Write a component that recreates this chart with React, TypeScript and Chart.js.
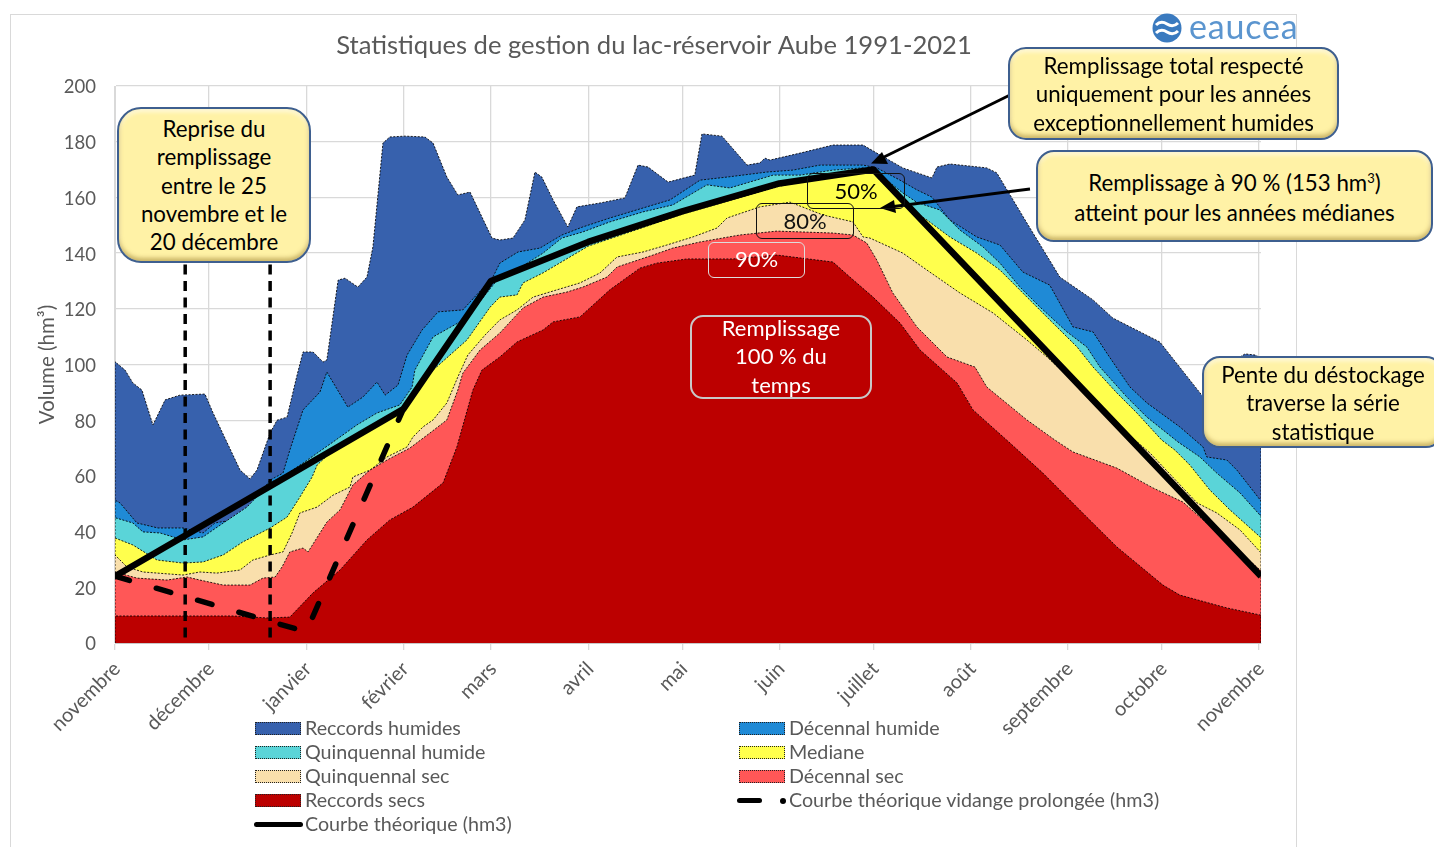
import React, { useEffect, useRef } from "react";
import { Chart, registerables } from "chart.js";

Chart.register(...registerables);

const FONT = "Lato";
const GREY = "#595959";

const chartTitle = "Statistiques de gestion du lac-réservoir Aube 1991-2021";
const yTitle = "Volume (hm³)";
const monthLabels = ["novembre","décembre","janvier","février","mars","avril","mai","juin","juillet","août","septembre","octobre","novembre"];
const monthDays = [0,30,61,92,120,151,181,212,242,273,304,334,365];
const xMax = 365.7;

type P = [number, number];

const reccordsHumides: P[] = [[0,101],[3.2,98],[5.7,93.4],[8.6,90.8],[12.1,78.3],[16,87.3],[20.7,89],[28.7,89.4],[31.3,82.6],[39.9,62.1],[43.1,58.9],[45.3,62.1],[49.5,75.4],[51.7,80],[54.9,81.1],[58.1,96.2],[60,104.5],[63.2,104.5],[66.4,100.9],[67.6,101.6],[71.2,130.3],[73.4,131],[77.5,127.8],[80.4,131.4],[82.3,142.2],[85.5,179.5],[87.7,181.7],[92.5,182],[98.9,181.7],[101.5,179.5],[105.9,167.3],[109.4,160.9],[113.3,161.9],[120.3,145.4],[122.8,144.7],[127,145.4],[130.8,151.9],[134,169.1],[136.2,167.3],[139.8,159.1],[144.5,149.4],[147.4,156.6],[154.8,158],[162.7,159.8],[166.9,171.6],[170.1,170.9],[176.5,165.5],[185,168],[187.3,182.8],[193.7,182],[201.7,171.6],[205.8,172.4],[207.4,174.1],[209,173.4],[218.6,175.9],[229.1,178.8],[238.7,178.8],[243.1,175.9],[251.4,170.6],[260.7,167],[262.3,170.9],[266.4,172],[278.2,170.6],[281.4,168.8],[291,150.8],[301.5,131.4],[312.1,123.2],[318.4,116.7],[333.4,108.1],[346.8,89],[351,86],[354,90],[357.4,101.6],[360.6,103.8],[363.8,103.4],[365.7,102.3]];
const decennalHumide: P[] = [[0,51.3],[1.6,50.3],[7,43.1],[13.7,41.3],[21.7,41.3],[28.1,39.5],[31.9,43.1],[37.7,44.2],[42.1,46.7],[44.7,51.3],[49.5,58.5],[53.6,61],[55.8,69.3],[60,83.7],[65.4,90.1],[67.6,97.3],[74.3,84.7],[79.1,88.3],[83.6,93.7],[86.2,89],[90.3,92.6],[93.2,103.4],[98,112.4],[103.1,118.9],[111,119.6],[120.6,131.4],[122.8,136.4],[128.6,140.4],[135.6,141.8],[142.6,146.5],[149.3,149.4],[157.9,152.6],[168.5,156.2],[177.1,159.1],[186.7,166.2],[195.3,167.3],[208,169.1],[216.3,169.8],[225,171.6],[238.7,171.6],[243.1,170.6],[250.5,166.2],[255.9,162.7],[260.7,160.1],[266.4,151.9],[275,145.8],[282.4,142.9],[289.7,133.2],[298.3,128.5],[305.7,113.5],[312.1,111.7],[316.5,104.1],[323.9,91.9],[329.3,86.2],[339.8,77.6],[347.2,70.4],[348.4,66.8],[354.8,65.7],[358,62.1],[365.7,51]];
const quinquennalHumide: P[] = [[0,45],[5.7,43.1],[8.9,39.9],[14.4,39.5],[21.7,37],[28.1,38.1],[31.3,40.6],[42.1,48.8],[49.5,57.5],[54.2,60.3],[60,64.6],[69.6,72.2],[77.2,78.3],[83.6,82.6],[90.9,85.5],[94.8,91.9],[95.7,98],[101.5,109.9],[112.3,116.7],[121.9,130.3],[129.2,134.7],[136.6,140],[142.6,145.4],[149.3,147.6],[157.9,151.2],[168.5,154.8],[178,157.3],[188.9,164.5],[196.2,163.4],[210,168],[218.6,168],[229.1,169.8],[238.7,170.6],[243.1,169.1],[251.4,161.6],[255.9,158.2],[263.2,155.5],[269.6,148.3],[277,142.2],[282.4,136.4],[288.8,127.8],[295.2,120.6],[303.8,111.7],[310.1,106.3],[314.3,99.1],[322.9,88.3],[329.3,81.1],[339.2,72.2],[346.2,66.8],[351.6,61],[359,53.9],[365.7,45.5]];
const mediane: P[] = [[0,37.7],[5.7,35.2],[13.4,29.8],[21.7,28.7],[28.1,29.1],[34.5,31.6],[40.8,36.3],[49.5,41.3],[54.9,45.2],[59,52.4],[62.9,59.6],[64.5,63.9],[69.6,69.3],[80.4,76.5],[90.9,83.7],[94.1,88.3],[101.5,98],[112.3,108.8],[119.7,120.6],[122.8,124.2],[128.3,125],[130.2,129.3],[136.6,132.9],[151,142.5],[181,154],[212,164],[230,168],[242,169],[243.1,167.3],[246.3,163.7],[252.7,156.6],[259.1,151.9],[266.4,145.8],[275,140],[282.4,133.9],[291,124.2],[298.3,116],[307,106.3],[312.1,99.1],[319.7,89.8],[326.1,82.6],[334,72.9],[338.2,69.3],[343,63.9],[349.4,54.9],[355.8,47.8],[365.7,37.8]];
const quinquennalSec: P[] = [[0,31.6],[3.8,27.3],[8.9,25.5],[21.7,24.4],[27.1,25.5],[32.5,25.1],[39.9,26.2],[44,29.8],[49.5,31.6],[53.6,32.7],[56.5,39.5],[59,46.7],[64.5,48.8],[69.6,53.1],[75,56],[75.9,59.6],[81.4,62.1],[86.8,66.8],[93.2,70.4],[95.1,74],[98.3,77.6],[101.5,80.1],[105.9,86.2],[109.4,95.5],[112.6,103.4],[118.1,110.6],[122.8,116],[128.3,119.6],[133.4,124.2],[141,126.8],[148.4,129.3],[154.8,132.9],[160.2,138.6],[168.5,140.4],[176.1,142.9],[184.4,145.8],[192.1,149],[195.3,152.6],[205.8,156.6],[215.4,158.3],[225.9,153.7],[235.5,151.2],[238.7,145.8],[240.9,145.4],[251.4,140],[259.1,133.9],[269.6,125.7],[280.2,118.5],[291,108.8],[297.4,102.7],[312.1,87.3],[322.9,75.4],[330.3,68.2],[345.3,50.3],[351.6,46.7],[359,40.6],[365.7,32.4]];
const decennalSec: P[] = [[0,25.5],[7,23.3],[16.6,22.6],[23,23.7],[27.1,22.6],[34.5,20.8],[43.1,20.8],[47.2,23.3],[51.1,23.7],[53.3,27.3],[55.8,32.7],[60,34.1],[61.6,32.7],[67.6,43.4],[71.8,47.8],[75.9,56.7],[81.4,62.1],[86.8,65.7],[94.1,70],[100.5,75.4],[105.9,80.1],[109.4,90.8],[111,96.9],[116.5,105.2],[122.8,111.3],[130.2,120.3],[136.6,124.2],[144.2,126],[149.3,127.8],[157,131.4],[160.2,135],[171.7,139.3],[178,141.8],[186.7,144],[199.4,146.5],[211.2,147.9],[229.1,147.2],[235.5,146.5],[239.9,143.6],[243.1,137.5],[248.2,125.7],[255.9,113.5],[265.5,102.7],[274.4,99.1],[278.2,91.9],[291,80.1],[299.9,72.9],[305.7,68.6],[319.7,62.8],[331.2,55.7],[340.8,50.6],[347.2,44.2],[354.8,37],[365.7,25.9]];
const reccordsSecs: P[] = [[0,9.7],[16.6,9.7],[37.7,9.7],[48.5,9],[55.8,9.3],[63.2,18],[71.8,26.2],[80.4,37],[87.7,44.2],[95.1,48.8],[104.7,57.5],[109.1,70.4],[114.2,90.8],[117.1,98],[122.8,102.7],[128.3,108.1],[136.6,112.4],[139.8,115.3],[148.4,117.1],[157.9,126.8],[167.5,134.6],[172.9,136.4],[182.5,137.9],[197.2,137.9],[211.2,139.3],[229.1,136.8],[234.5,131.4],[241.9,124.2],[250.5,114.9],[256.9,105.2],[268.7,93.4],[273.8,83.7],[285.6,71.8],[296.1,61],[310.1,45.2],[319.7,34.5],[334.4,20.8],[339.8,17.2],[354.8,12.6],[365.7,10]];
const courbeTheorique: P[] = [[0,24],[92,84],[120,130],[151,144],[181,155],[212,165],[242,170],[365.7,24]];
const courbeVidange: P[] = [[0,24],[61,4],[92,84]];
const repriseDebut: P[] = [[22.4,2],[22.4,140]];
const repriseFin: P[] = [[49.5,2],[49.5,140]];

const BLUE_DARK = "#3761AD";
const BLUE = "#1F8AD6";
const CYAN = "#5AD4D8";
const YELLOW = "#FFFF4D";
const BEIGE = "#F9DFAC";
const RED = "#FF5757";
const RED_DARK = "#BC0000";

const areaSeries: { label: string; data: P[]; color: string }[] = [
  { label: "Reccords secs", data: reccordsSecs, color: RED_DARK },
  { label: "Décennal sec", data: decennalSec, color: RED },
  { label: "Quinquennal sec", data: quinquennalSec, color: BEIGE },
  { label: "Mediane", data: mediane, color: YELLOW },
  { label: "Quinquennal humide", data: quinquennalHumide, color: CYAN },
  { label: "Décennal humide", data: decennalHumide, color: BLUE },
  { label: "Reccords humides", data: reccordsHumides, color: BLUE_DARK },
];

const legendLeft = [
  { label: "Reccords humides", color: BLUE_DARK },
  { label: "Quinquennal humide", color: CYAN },
  { label: "Quinquennal sec", color: BEIGE },
  { label: "Reccords secs", color: RED_DARK },
];
const legendRight = [
  { label: "Décennal humide", color: BLUE },
  { label: "Mediane", color: YELLOW },
  { label: "Décennal sec", color: RED },
];
const legendVidange = "Courbe théorique vidange prolongée (hm3)";
const legendTheorique = "Courbe théorique (hm3)";

const toXY = (pts: P[]) => pts.map(([x, y]) => ({ x, y }));
const closed = (pts: P[]) => {
  const a = pts[0];
  const b = pts[pts.length - 1];
  return toXY([[a[0], 0], ...pts, [b[0], 0]]);
};

const calloutStyle: React.CSSProperties = {
  position: "absolute",
  boxSizing: "border-box",
  background: "#FFF2A6",
  border: "2px solid #3E5F8F",
  boxShadow: "inset 0 -3px 4px rgba(150,120,40,.5), inset 0 3px 4px rgba(255,255,255,.6)",
  color: "#000",
  fontFamily: FONT,
  fontSize: 22.3,
  lineHeight: "28.3px",
  textAlign: "center",
  whiteSpace: "pre",
  zIndex: 3,
};
const tagStyle: React.CSSProperties = {
  position: "absolute",
  boxSizing: "border-box",
  fontFamily: FONT,
  fontSize: 22,
  textAlign: "center",
  whiteSpace: "pre",
  zIndex: 2,
};

function Callout(p: { x: number; y: number; w: number; h: number; r: number; pad: number; text: string }) {
  return (
    <div style={{ ...calloutStyle, left: p.x, top: p.y, width: p.w, height: p.h, borderRadius: p.r, paddingTop: p.pad }}>{p.text}</div>
  );
}
function Tag(p: { x: number; y: number; w: number; h: number; r: number; dy: number; color: string; border: string; lh: number; text: string }) {
  return (
    <div style={{ ...tagStyle, left: p.x, top: p.y, width: p.w, height: p.h, borderRadius: p.r, color: p.color, border: p.border, lineHeight: p.lh + "px" }}>
      <div style={{ transform: `translateY(${p.dy}px)` }}>{p.text}</div>
    </div>
  );
}

const legendText: React.CSSProperties = { position: "absolute", fontFamily: FONT, fontSize: 19.7, color: GREY, whiteSpace: "pre", lineHeight: "24px" };
const swatch: React.CSSProperties = { position: "absolute", boxSizing: "border-box", width: 46, height: 13, border: "1px dotted #222" };

export default function App() {
  const ref = useRef<HTMLCanvasElement>(null);
  useEffect(() => {
    document.body.style.margin = "0";
    document.body.style.background = "#fff";
    document.body.style.overflow = "hidden";
    const chart = new Chart(ref.current!, {
      type: "line",
      data: {
        datasets: [
          { label: "repriseDebut", data: toXY(repriseDebut), borderColor: "#000", borderWidth: 3.5, borderDash: [10, 6.5], fill: false },
          { label: "repriseFin", data: toXY(repriseFin), borderColor: "#000", borderWidth: 3.5, borderDash: [10, 6.5], fill: false },
          { label: "Courbe théorique vidange prolongée (hm3)", data: toXY(courbeVidange), borderColor: "#000", borderWidth: 5.5, borderDash: [15, 28], borderCapStyle: "round", fill: false },
          { label: "Courbe théorique (hm3)", data: toXY(courbeTheorique), borderColor: "#000", borderWidth: 6.5, borderJoinStyle: "round", fill: false },
          ...areaSeries.map((s) => ({
            label: s.label,
            data: closed(s.data),
            borderColor: "rgba(0,0,0,.85)",
            borderWidth: 1,
            borderDash: [2, 1.5],
            backgroundColor: s.color,
            fill: "origin",
          })),
        ],
      },
      options: {
        animation: false,
        responsive: false,
        devicePixelRatio: 1,
        elements: { point: { radius: 0 }, line: { tension: 0 } },
        layout: { padding: { left: 36, right: 36, top: 0, bottom: 0 } },
        plugins: {
          legend: { display: false },
          tooltip: { enabled: false },
          title: {
            display: true,
            text: chartTitle,
            color: GREY,
            font: { family: FONT, size: 25.6, weight: "normal" },
            padding: { top: 16, bottom: 25.28 },
          },
        },
        scales: {
          x: {
            type: "linear",
            min: 0,
            max: xMax,
            afterBuildTicks: (s: any) => {
              s.ticks = monthDays.map((value) => ({ value }));
            },
            afterFit: (s: any) => {
              s.height = 204;
            },
            ticks: {
              autoSkip: false,
              minRotation: 45,
              maxRotation: 45,
              padding: 7,
              labelOffset: 2,
              color: GREY,
              font: { family: FONT, size: 20, weight: "normal" },
              callback: (_v: any, i: number) => monthLabels[i],
            },
            grid: { color: "#d9d9d9", tickLength: 7, lineWidth: 1.3 },
            border: { color: "#c8c8c8" },
          },
          y: {
            min: 0,
            max: 200,
            afterFit: (s: any) => {
              s.width = 68;
            },
            ticks: { stepSize: 20, padding: 19, labelOffset: 1.5, color: GREY, font: { family: FONT, size: 18.5, weight: "normal" } },
            grid: { color: "#d9d9d9", drawTicks: false, lineWidth: 1.3 },
            border: { color: "#d9d9d9" },
            title: { display: true, text: yTitle, color: GREY, font: { family: FONT, size: 20.5, weight: "normal" }, padding: { top: -12, bottom: 0 } },
          },
        },
      } as any,
    });
    return () => chart.destroy();
  }, []);

  return (
    <div style={{ position: "absolute", left: 0, top: 0, width: 1434, height: 847, overflow: "hidden", background: "#fff" }}>
      <div style={{ position: "absolute", left: 10, top: 14, width: 1287, height: 840, boxSizing: "border-box", border: "1px solid #d9d9d9" }} />
      <canvas ref={ref} width={1286} height={833} style={{ position: "absolute", left: 11, top: 14, display: "block" }} />

      <svg width={1434} height={847} style={{ position: "absolute", left: 0, top: 0, zIndex: 2 }}>
        <line x1={1010} y1={95} x2={880} y2={159} stroke="#000" strokeWidth={3} />
        <polygon points="871,163.5 882,152 888,164" fill="#000" />
        <line x1={1030} y1={189} x2={890} y2={207} stroke="#000" strokeWidth={3} />
        <polygon points="880,208 894,200 896,213" fill="#000" />
        <circle cx={1167} cy={28} r={14.5} fill="#3A7ABF" />
        <path d="M1156 25 q5 -5 11 -1 t11 -1" fill="none" stroke="#fff" strokeWidth={3} />
        <path d="M1156 33 q5 -5 11 -1 t11 -1" fill="none" stroke="#fff" strokeWidth={3} />
      </svg>
      <div style={{ position: "absolute", left: 1189, top: 6, fontFamily: FONT, fontSize: 34, letterSpacing: 0.8, lineHeight: "40px", color: "#5B95CF", zIndex: 2 }}>eaucea</div>

      <Tag x={807} y={173} w={98} h={36} r={6} dy={-1} color="#000" border="1.5px solid #111" lh={35} text="50%" />
      <Tag x={756} y={203} w={98} h={36} r={6} dy={-1} color="#111" border="1.5px solid #111" lh={36} text="80%" />
      <Tag x={708} y={242} w={97} h={36} r={6} dy={-1} color="#fff" border="1.5px solid #ddd" lh={34} text="90%" />
      <Tag x={690} y={315} w={182} h={84} r={13} dy={-3} color="#fff" border="2px solid #c8c8c8" lh={28.3} text={"Remplissage\n100 % du\ntemps"} />

      <Callout x={117} y={107} w={194} h={156} r={24} pad={6} text={"Reprise du\nremplissage\nentre le 25\nnovembre et le\n20 décembre"} />
      <Callout x={1008} y={47} w={331} h={93} r={18} pad={3} text={"Remplissage total respecté\nuniquement pour les années\nexceptionnellement humides"} />
      <div style={{ ...calloutStyle, left: 1036, top: 150, width: 397, height: 92, borderRadius: 18, paddingTop: 16, lineHeight: "29.5px" }}>
        <span>Remplissage à 90 % (153 hm<sup style={{ fontSize: 13, lineHeight: 0 }}>3</sup>)</span>
        {"\natteint pour les années médianes"}
      </div>
      <Callout x={1202} y={356} w={242} h={92} r={18} pad={3} text={"Pente du déstockage\ntraverse la série\nstatistique"} />

      {legendLeft.map((l, i) => (
        <React.Fragment key={l.label}>
          <div style={{ ...swatch, left: 255, top: 722 + i * 24, background: l.color }} />
          <div style={{ ...legendText, left: 305, top: 716 + i * 24 }}>{l.label}</div>
        </React.Fragment>
      ))}
      {legendRight.map((l, i) => (
        <React.Fragment key={l.label}>
          <div style={{ ...swatch, left: 739, top: 722 + i * 24, background: l.color }} />
          <div style={{ ...legendText, left: 789, top: 716 + i * 24 }}>{l.label}</div>
        </React.Fragment>
      ))}
      <div style={{ position: "absolute", left: 737, top: 798, width: 25, height: 5, borderRadius: 3, background: "#000" }} />
      <div style={{ position: "absolute", left: 780, top: 798, width: 6, height: 6, borderRadius: 3, background: "#000" }} />
      <div style={{ ...legendText, left: 789, top: 788 }}>{legendVidange}</div>
      <div style={{ position: "absolute", left: 254, top: 822, width: 49, height: 5, borderRadius: 3, background: "#000" }} />
      <div style={{ ...legendText, left: 305, top: 812 }}>{legendTheorique}</div>
    </div>
  );
}
